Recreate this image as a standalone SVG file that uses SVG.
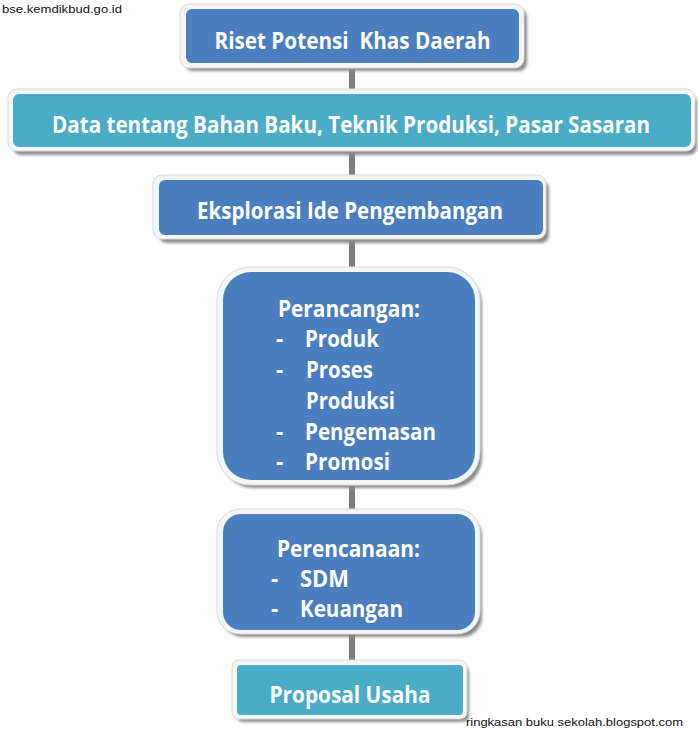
<svg xmlns="http://www.w3.org/2000/svg" width="698" height="731" viewBox="0 0 698 731">
<defs>
<filter id="sh" x="-10%" y="-10%" width="120%" height="130%">
<feGaussianBlur stdDeviation="1.5"/>
</filter>
</defs>
<style>
.shadow{fill:#8c8c8c;filter:url(#sh)}
.frame{fill:#f4f6f8;stroke:#d6dbe0;stroke-width:1}
.blue{fill:#4a7ebf}
.teal{fill:#4aacc6}
.t{font-family:"Open Sans","Noto Sans","Liberation Sans",sans-serif;font-weight:700;fill:#ffffff;font-size:22.5px}
.wm{font-family:"Liberation Sans Narrow","Liberation Sans",sans-serif;font-size:10px;fill:#111}
.conn{stroke:#7f7f7f;stroke-width:6;fill:none}
</style>
<rect width="698" height="731" fill="#ffffff"/>
<g id="connectors">
<line class="conn" x1="352" y1="66" x2="352" y2="96"/>
<line class="conn" x1="352" y1="152" x2="352" y2="182"/>
<line class="conn" x1="352" y1="240" x2="352" y2="272"/>
<line class="conn" x1="352" y1="484" x2="352" y2="515"/>
<line class="conn" x1="352" y1="632" x2="352" y2="664"/>
</g>
<g id="n1">
<rect class="shadow" x="185" y="9" width="342" height="62" rx="8"/>
<rect class="frame" x="180" y="4" width="344" height="64" rx="9"/>
<rect class="blue" x="186" y="9" width="333" height="54" rx="6"/>
<text class="t" x="352.5" y="49" text-anchor="middle" textLength="276" lengthAdjust="spacingAndGlyphs" style="white-space:pre">Riset Potensi  Khas Daerah</text>
</g>
<g id="n2">
<rect class="shadow" x="13" y="95" width="684" height="60" rx="8"/>
<rect class="frame" x="8" y="89" width="687" height="62" rx="9"/>
<rect class="teal" x="13" y="94" width="678" height="53" rx="6"/>
<text class="t" x="351" y="133" text-anchor="middle" textLength="598" lengthAdjust="spacingAndGlyphs">Data tentang Bahan Baku, Teknik Produksi, Pasar Sasaran</text>
</g>
<g id="n3">
<rect class="shadow" x="159" y="181" width="390" height="62" rx="8"/>
<rect class="frame" x="153" y="175" width="393" height="64" rx="9"/>
<rect class="blue" x="159" y="180" width="384" height="55" rx="6"/>
<text class="t" x="350" y="219" text-anchor="middle" textLength="306" lengthAdjust="spacingAndGlyphs">Eksplorasi Ide Pengembangan</text>
</g>
<g id="n4">
<rect class="shadow" x="223" y="274" width="259" height="214" rx="30"/>
<rect class="frame" x="217" y="267" width="263" height="218" rx="33"/>
<rect class="blue" x="223" y="272" width="252" height="208" rx="28"/>
<text class="t" x="278" y="317" textLength="142" lengthAdjust="spacingAndGlyphs">Perancangan:</text>
<text class="t" x="276" y="347">-</text>
<text class="t" x="305" y="347" textLength="74" lengthAdjust="spacingAndGlyphs">Produk</text>
<text class="t" x="276" y="378">-</text>
<text class="t" x="306" y="378" textLength="67" lengthAdjust="spacingAndGlyphs">Proses</text>
<text class="t" x="306" y="409" textLength="89" lengthAdjust="spacingAndGlyphs">Produksi</text>
<text class="t" x="276" y="440">-</text>
<text class="t" x="305" y="440" textLength="131" lengthAdjust="spacingAndGlyphs">Pengemasan</text>
<text class="t" x="276" y="470">-</text>
<text class="t" x="305" y="470" textLength="85" lengthAdjust="spacingAndGlyphs">Promosi</text>
</g>
<g id="n5">
<rect class="shadow" x="223" y="516" width="259" height="121" rx="20"/>
<rect class="frame" x="217" y="509" width="263" height="125" rx="23"/>
<rect class="blue" x="223" y="514" width="252" height="116" rx="18"/>
<text class="t" x="277" y="557" textLength="143" lengthAdjust="spacingAndGlyphs">Perencanaan:</text>
<text class="t" x="271" y="587">-</text>
<text class="t" x="300" y="587" textLength="49" lengthAdjust="spacingAndGlyphs">SDM</text>
<text class="t" x="271" y="617">-</text>
<text class="t" x="300" y="617" textLength="103" lengthAdjust="spacingAndGlyphs">Keuangan</text>
</g>
<g id="n6">
<rect class="shadow" x="237" y="666" width="232" height="56" rx="6"/>
<rect class="frame" x="232" y="660" width="235" height="59" rx="7"/>
<rect class="teal" x="237" y="665" width="226" height="50" rx="4"/>
<text class="t" x="350" y="703" text-anchor="middle" textLength="161" lengthAdjust="spacingAndGlyphs">Proposal Usaha</text>
</g>
<text class="wm" x="2" y="13" textLength="120" lengthAdjust="spacingAndGlyphs">bse.kemdikbud.go.id</text>
<text class="wm" x="466" y="726" textLength="217" lengthAdjust="spacingAndGlyphs">ringkasan buku sekolah.blogspot.com</text>
</svg>
